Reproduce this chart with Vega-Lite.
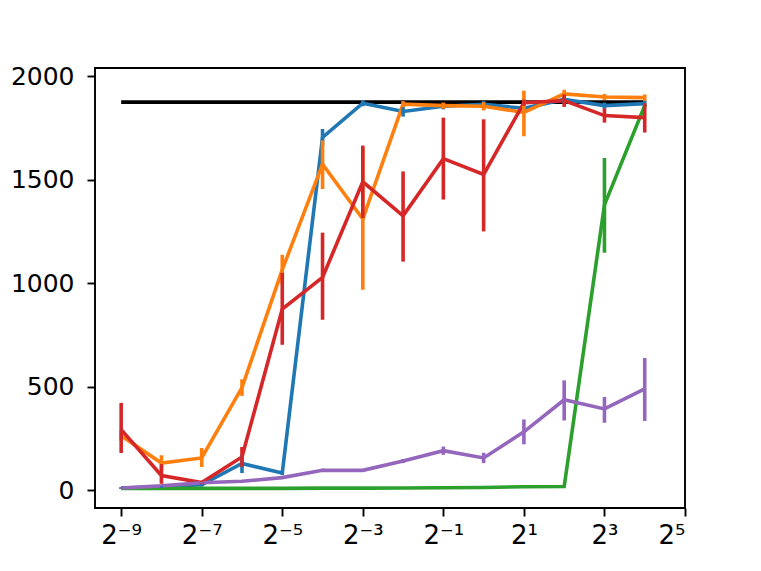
{
  "$schema": "https://vega.github.io/schema/vega-lite/v6.json",
  "autosize": "none",
  "width": 590,
  "height": 440,
  "padding": {"left": 95, "top": 68, "right": 76, "bottom": 63},
  "background": "white",
  "config": {
    "view": {"stroke": "black", "strokeWidth": 1.9},
    "font": "DejaVu Sans",
    "axis": {
      "grid": false,
      "domain": false,
      "tickColor": "black",
      "tickWidth": 1.9,
      "tickSize": 8,
      "labelColor": "black",
      "labelFont": "DejaVu Sans",
      "labelFontSize": 25,
      "title": null
    }
  },
  "data": {
    "values": [
      {"s": "ref", "x": 0.001953125, "y": 1875},
      {"s": "ref", "x": 16, "y": 1875},

      {"s": "blue", "x": 0.001953125, "y": 10, "lo": 5, "hi": 15},
      {"s": "blue", "x": 0.00390625, "y": 15, "lo": 10, "hi": 20},
      {"s": "blue", "x": 0.0078125, "y": 25, "lo": 17, "hi": 33},
      {"s": "blue", "x": 0.015625, "y": 128, "lo": 82, "hi": 170},
      {"s": "blue", "x": 0.03125, "y": 82, "lo": 72, "hi": 92},
      {"s": "blue", "x": 0.0625, "y": 1705, "lo": 1665, "hi": 1745},
      {"s": "blue", "x": 0.125, "y": 1870, "lo": 1855, "hi": 1885},
      {"s": "blue", "x": 0.25, "y": 1830, "lo": 1805, "hi": 1855},
      {"s": "blue", "x": 0.5, "y": 1855, "lo": 1840, "hi": 1870},
      {"s": "blue", "x": 1, "y": 1865, "lo": 1850, "hi": 1880},
      {"s": "blue", "x": 2, "y": 1845, "lo": 1830, "hi": 1860},
      {"s": "blue", "x": 4, "y": 1888, "lo": 1868, "hi": 1908},
      {"s": "blue", "x": 8, "y": 1858, "lo": 1843, "hi": 1873},
      {"s": "blue", "x": 16, "y": 1868, "lo": 1853, "hi": 1883},

      {"s": "orange", "x": 0.001953125, "y": 262, "lo": 237, "hi": 287},
      {"s": "orange", "x": 0.00390625, "y": 130, "lo": 92, "hi": 168},
      {"s": "orange", "x": 0.0078125, "y": 155, "lo": 111, "hi": 203},
      {"s": "orange", "x": 0.015625, "y": 495, "lo": 455, "hi": 535},
      {"s": "orange", "x": 0.03125, "y": 1065, "lo": 995, "hi": 1137},
      {"s": "orange", "x": 0.0625, "y": 1575, "lo": 1455, "hi": 1690},
      {"s": "orange", "x": 0.125, "y": 1310, "lo": 968, "hi": 1650},
      {"s": "orange", "x": 0.25, "y": 1865, "lo": 1850, "hi": 1880},
      {"s": "orange", "x": 0.5, "y": 1858, "lo": 1843, "hi": 1873},
      {"s": "orange", "x": 1, "y": 1855, "lo": 1835, "hi": 1875},
      {"s": "orange", "x": 2, "y": 1825, "lo": 1710, "hi": 1930},
      {"s": "orange", "x": 4, "y": 1915, "lo": 1895, "hi": 1935},
      {"s": "orange", "x": 8, "y": 1900, "lo": 1885, "hi": 1915},
      {"s": "orange", "x": 16, "y": 1897, "lo": 1882, "hi": 1912},

      {"s": "green", "x": 0.001953125, "y": 8, "lo": 6, "hi": 10},
      {"s": "green", "x": 0.00390625, "y": 8, "lo": 6, "hi": 10},
      {"s": "green", "x": 0.0078125, "y": 8, "lo": 6, "hi": 10},
      {"s": "green", "x": 0.015625, "y": 8, "lo": 6, "hi": 10},
      {"s": "green", "x": 0.03125, "y": 8, "lo": 6, "hi": 10},
      {"s": "green", "x": 0.0625, "y": 9, "lo": 7, "hi": 11},
      {"s": "green", "x": 0.125, "y": 9, "lo": 7, "hi": 11},
      {"s": "green", "x": 0.25, "y": 10, "lo": 8, "hi": 12},
      {"s": "green", "x": 0.5, "y": 11, "lo": 9, "hi": 13},
      {"s": "green", "x": 1, "y": 12, "lo": 10, "hi": 14},
      {"s": "green", "x": 2, "y": 16, "lo": 14, "hi": 18},
      {"s": "green", "x": 4, "y": 17, "lo": 15, "hi": 19},
      {"s": "green", "x": 8, "y": 1378, "lo": 1147, "hi": 1605},
      {"s": "green", "x": 16, "y": 1858, "lo": 1850, "hi": 1866},

      {"s": "red", "x": 0.001953125, "y": 292, "lo": 179, "hi": 421},
      {"s": "red", "x": 0.00390625, "y": 70, "lo": 30, "hi": 125},
      {"s": "red", "x": 0.0078125, "y": 36, "lo": 28, "hi": 44},
      {"s": "red", "x": 0.015625, "y": 160, "lo": 112, "hi": 208},
      {"s": "red", "x": 0.03125, "y": 875, "lo": 702, "hi": 1050},
      {"s": "red", "x": 0.0625, "y": 1028, "lo": 823, "hi": 1244},
      {"s": "red", "x": 0.125, "y": 1490, "lo": 1315, "hi": 1665},
      {"s": "red", "x": 0.25, "y": 1325, "lo": 1104, "hi": 1540},
      {"s": "red", "x": 0.5, "y": 1602, "lo": 1404, "hi": 1800},
      {"s": "red", "x": 1, "y": 1525, "lo": 1250, "hi": 1792},
      {"s": "red", "x": 2, "y": 1872, "lo": 1857, "hi": 1887},
      {"s": "red", "x": 4, "y": 1882, "lo": 1852, "hi": 1912},
      {"s": "red", "x": 8, "y": 1810, "lo": 1776, "hi": 1845},
      {"s": "red", "x": 16, "y": 1800, "lo": 1728, "hi": 1870},

      {"s": "purple", "x": 0.001953125, "y": 10, "lo": 7, "hi": 13},
      {"s": "purple", "x": 0.00390625, "y": 20, "lo": 17, "hi": 23},
      {"s": "purple", "x": 0.0078125, "y": 35, "lo": 31, "hi": 39},
      {"s": "purple", "x": 0.015625, "y": 42, "lo": 38, "hi": 46},
      {"s": "purple", "x": 0.03125, "y": 60, "lo": 55, "hi": 65},
      {"s": "purple", "x": 0.0625, "y": 95, "lo": 87, "hi": 103},
      {"s": "purple", "x": 0.125, "y": 95, "lo": 90, "hi": 100},
      {"s": "purple", "x": 0.25, "y": 140, "lo": 130, "hi": 150},
      {"s": "purple", "x": 0.5, "y": 190, "lo": 170, "hi": 210},
      {"s": "purple", "x": 1, "y": 155, "lo": 130, "hi": 180},
      {"s": "purple", "x": 2, "y": 281, "lo": 221, "hi": 341},
      {"s": "purple", "x": 4, "y": 436, "lo": 336, "hi": 530},
      {"s": "purple", "x": 8, "y": 392, "lo": 325, "hi": 450},
      {"s": "purple", "x": 16, "y": 489, "lo": 334, "hi": 638}
    ]
  },
  "encoding": {
    "x": {
      "field": "x",
      "type": "quantitative",
      "scale": {"type": "log", "base": 2, "domain": [0.001245, 32], "nice": false, "zero": false},
      "axis": {
        "values": [0.001953125, 0.0078125, 0.03125, 0.125, 0.5, 2, 8, 32],
        "labelExpr": "'2' + ['⁻⁹','⁻⁸','⁻⁷','⁻⁶','⁻⁵','⁻⁴','⁻³','⁻²','⁻¹','⁰','¹','²','³','⁴','⁵'][round(log(datum.value)/LN2)+9]",
        "labelFontSize": 26,
        "labelPadding": 6
      }
    },
    "color": {
      "field": "s",
      "type": "nominal",
      "scale": {
        "domain": ["ref", "blue", "orange", "green", "red", "purple"],
        "range": ["#000000", "#1f77b4", "#ff7f0e", "#2ca02c", "#d62728", "#9467bd"]
      },
      "legend": null
    }
  },
  "layer": [
    {
      "mark": {"type": "line", "strokeWidth": 3.6, "clip": true},
      "encoding": {
        "y": {
          "field": "y",
          "type": "quantitative",
          "scale": {"domain": [-87, 2040], "nice": false, "zero": false},
          "axis": {"values": [0, 500, 1000, 1500, 2000], "format": "d", "labelPadding": 13}
        },
        "order": {"field": "x"}
      }
    },
    {
      "transform": [{"filter": "isValid(datum.lo)"}],
      "mark": {"type": "rule", "strokeWidth": 3.6, "clip": true},
      "encoding": {
        "y": {"field": "lo", "type": "quantitative"},
        "y2": {"field": "hi"}
      }
    }
  ]
}
